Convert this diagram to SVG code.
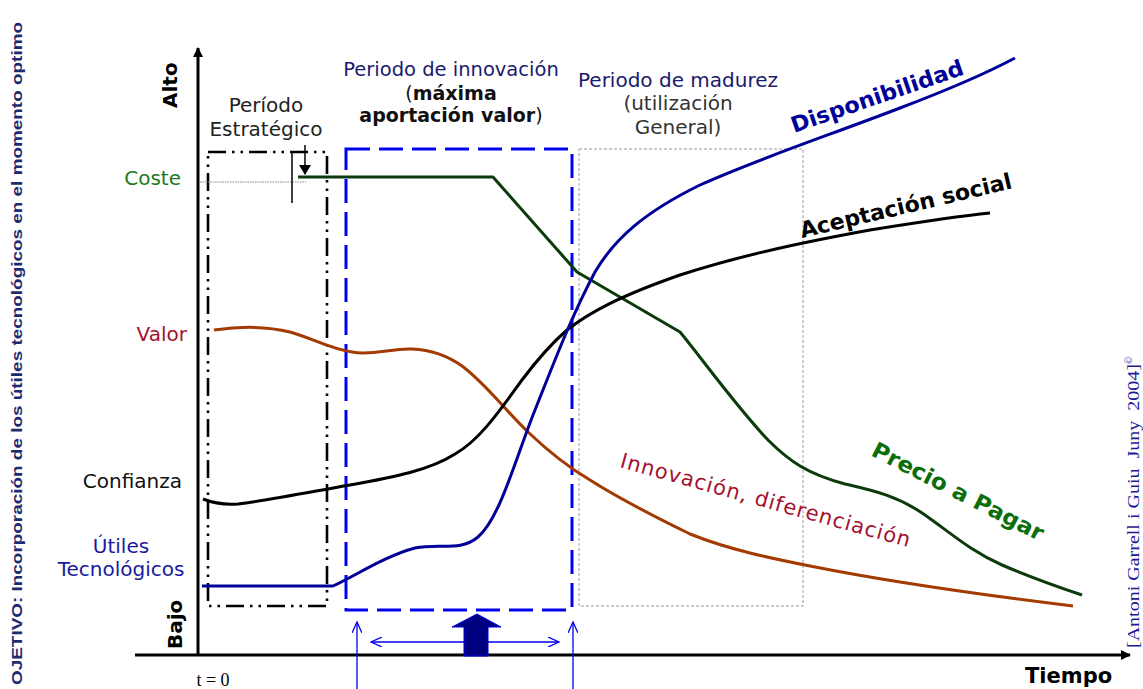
<svg xmlns="http://www.w3.org/2000/svg" width="1143" height="689" viewBox="0 0 1143 689">
<style>
.v{font-family:"DejaVu Sans","Verdana",sans-serif;font-size:20px}
.a{font-family:"Liberation Sans",Arial,sans-serif;font-weight:bold}
.b{font-family:"DejaVu Sans","Verdana",sans-serif;font-weight:bold}
.c{fill:none;stroke-width:3;stroke-linejoin:round;stroke-linecap:butt}
</style>
<defs>
<marker id="ah" markerWidth="10" markerHeight="10" refX="9" refY="5" orient="auto" markerUnits="userSpaceOnUse">
<path d="M0,0 L10,5 L0,10 z" fill="#000"/>
</marker>
<marker id="bh" markerWidth="12" markerHeight="10" refX="11" refY="5" orient="auto-start-reverse" markerUnits="userSpaceOnUse">
<path d="M0,0 L11,5 L0,10" fill="none" stroke="#0000ee" stroke-width="1.3"/>
</marker>
<marker id="sm" markerWidth="10" markerHeight="12" refX="9" refY="6" orient="auto" markerUnits="userSpaceOnUse">
<path d="M0,0 L10,6 L0,12 z" fill="#000"/>
</marker>
</defs>
<rect width="1143" height="689" fill="#fff"/>

<g id="boxes">
<rect id="estrategico-box" x="208" y="152" width="119" height="454" fill="none" stroke="#000" stroke-width="2.6" stroke-dasharray="18 6 2.5 6 2.5 6"/>
<rect id="innovacion-box" x="346" y="149" width="226" height="461" fill="none" stroke="#0000ee" stroke-width="3" stroke-dasharray="24 9"/>
<rect id="madurez-box" x="579" y="149" width="224" height="457" fill="none" stroke="#999" stroke-width="1" stroke-dasharray="3 2"/>
</g>

<g id="axes">
<line x1="198" y1="655" x2="198" y2="48" stroke="#000" stroke-width="3" marker-end="url(#ah)"/>
<line x1="135" y1="655" x2="1130" y2="655" stroke="#000" stroke-width="3" marker-end="url(#ah)"/>
</g>

<g id="coste-ref">
<line x1="200" y1="182" x2="306" y2="182" stroke="#888" stroke-width="1" stroke-dasharray="1.5 1"/>
<line x1="292" y1="152" x2="292" y2="203" stroke="#000" stroke-width="1.5"/>
<line x1="305" y1="145" x2="305" y2="174" stroke="#000" stroke-width="1.5" marker-end="url(#sm)"/>
</g>

<g id="connectors">
<path id="curve-precio" class="c" stroke="#0b3b0b" d="M298 177 L493 177 L577 272 L680 332 C700 356 735 405 768 440 C790 462 808 474 845 484 C875 491 898 496 925 515 C952 534 972 552 1002 565 C1030 577 1055 586 1082 595"/>
<path id="curve-valor" class="c" stroke="#a33a00" d="M214 330 C235 327 262 325 290 332 C312 338 330 349 352 352 C372 356 392 348 412 349 C432 350 448 356 462 366 C485 383 505 410 528 432 C548 451 566 466 590 480 C615 496 645 512 690 534 C730 550 770 558 810 566 C870 578 950 591 1073 606"/>
<path id="curve-confianza" class="c" stroke="#000" d="M203 499 C213 503 224 505 238 504 C270 500 310 492 350 485 C395 477 430 470 455 454 C480 440 500 410 522 380 C540 356 552 343 567 330 C590 312 620 296 680 275 C745 254 810 241 870 230 C920 222 960 216 990 213"/>
<path id="curve-utiles" class="c" stroke="#000099" d="M202 586 L333 586 C355 576 385 556 415 548 C440 543 460 552 478 537 C500 518 515 460 535 410 C555 360 572 315 595 272 C615 238 645 212 700 185 C760 158 830 135 900 108 C950 89 985 74 1015 58"/>
</g>

<g id="innovacion-arrows">
<line x1="357" y1="689" x2="357" y2="622" stroke="#0000ee" stroke-width="1.3" marker-end="url(#bh)"/>
<line x1="573" y1="689" x2="573" y2="622" stroke="#0000ee" stroke-width="1.3" marker-end="url(#bh)"/>
<line x1="371" y1="642" x2="559" y2="642" stroke="#0000ee" stroke-width="1.3" marker-start="url(#bh)" marker-end="url(#bh)"/>
<path id="up-arrow" d="M464 656 L464 627 L452 627 L477 614 L501 627 L488 627 L488 656 Z" fill="#000080" stroke="#0000ee" stroke-width="1"/>
</g>

<g id="labels">
<text class="b" font-size="20" transform="translate(177,108) rotate(-90)">Alto</text>
<text class="b" font-size="20" transform="translate(182,649) rotate(-90)">Bajo</text>
<text class="b" font-size="21" x="1025" y="683">Tiempo</text>
<text x="213" y="686" font-family="Liberation Serif,serif" font-size="18" text-anchor="middle">t = 0</text>
<text class="a" font-size="14.5" fill="#1f2a6e" transform="translate(22,685) rotate(-90)" textLength="663" lengthAdjust="spacingAndGlyphs">OJETIVO: Incorporación de los útiles tecnológicos en el momento optimo</text>
<text font-family="Liberation Serif,serif" font-size="16" fill="#1a1a99" transform="translate(1139,648) rotate(-90)" style="white-space:pre"><tspan textLength="284" lengthAdjust="spacingAndGlyphs">[Antoni Garrell i Guiu  Juny  2004]</tspan><tspan font-size="10" dy="-7">©</tspan></text>

<text class="v" x="181" y="185" text-anchor="end" fill="#1e7a1e">Coste</text>
<text class="v" x="187" y="341" text-anchor="end" fill="#a5102e">Valor</text>
<text class="v" x="182" y="488" text-anchor="end" fill="#111">Confianza</text>
<text class="v" x="121" y="553" text-anchor="middle" fill="#1a1aa0">Útiles</text>
<text class="v" x="121" y="576" text-anchor="middle" fill="#1a1aa0">Tecnológicos</text>

<text class="v" x="266" y="112" text-anchor="middle" fill="#222">Período</text>
<text class="v" x="266" y="136" text-anchor="middle" fill="#222">Estratégico</text>

<text class="v" style="font-size:19.5px" x="451" y="76" text-anchor="middle" fill="#1a1a6e">Periodo de innovación</text>
<text class="v" style="font-size:19px" x="451" y="100" text-anchor="middle" fill="#111">(<tspan font-weight="bold">máxima</tspan></text>
<text class="v" style="font-size:19px" x="451" y="122" text-anchor="middle" fill="#111"><tspan font-weight="bold">aportación valor</tspan>)</text>

<text class="v" x="678" y="87" text-anchor="middle" fill="#1a1a6e">Periodo de madurez</text>
<text class="v" x="678" y="110" text-anchor="middle" fill="#333">(utilización</text>
<text class="v" x="678" y="134" text-anchor="middle" fill="#333">General)</text>

<text class="b" font-size="22" fill="#000099" transform="translate(794,133) rotate(-19)" textLength="181" lengthAdjust="spacingAndGlyphs">Disponibilidad</text>
<text class="b" font-size="22" fill="#000" transform="translate(802,238) rotate(-13.3)" textLength="217" lengthAdjust="spacingAndGlyphs">Aceptación social</text>
<text class="b" font-size="22" fill="#0a6e0a" transform="translate(870,455) rotate(27)" textLength="190" lengthAdjust="spacingAndGlyphs">Precio a Pagar</text>
<text class="v" style="font-size:21px" fill="#a5102e" transform="translate(619,467) rotate(15.5)" textLength="300" lengthAdjust="spacing">Innovación, diferenciación</text>
</g>
</svg>
